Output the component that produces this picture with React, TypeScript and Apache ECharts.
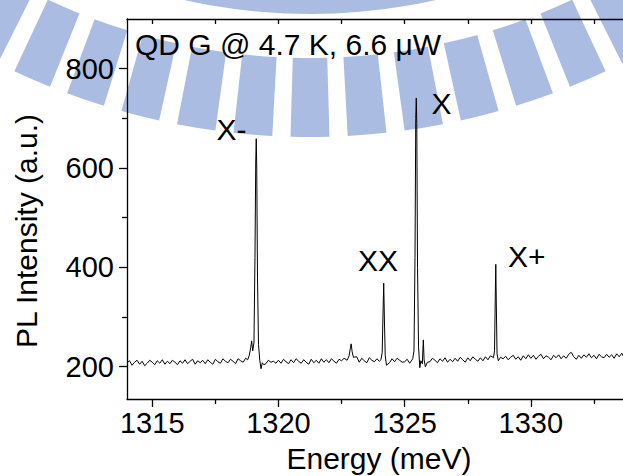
import React, { useEffect, useRef } from "react";
import * as echarts from "echarts";

// Baseline spectrum sampled every 0.1 meV from 1314.0 meV
const baseStart = 1314.0;
const baseStep = 0.1;
const baseIntensity = [
  208, 212, 203, 209, 213, 205, 211, 202, 207, 213,
  209, 204, 212, 207, 214, 205, 211, 206, 213, 209,
  204, 212, 207, 214, 206, 211, 215, 205, 212, 208,
  213, 206, 214, 209, 205, 215, 210, 207, 216, 211,
  208, 215, 211, 206, 216, 212, 209, 217, 213, 218,
  230, 260, 240, 205, 212, 206, 213, 209, 211, 207,
  213, 207, 215, 210, 206, 214, 208, 216, 211, 207,
  214, 209, 205, 215, 208, 213, 207, 216, 209, 214,
  208, 216, 211, 207, 215, 212, 217, 209, 230, 226,
  214, 220, 209, 217, 212, 208, 218, 213, 210, 216,
  211, 218, 250, 230, 208, 216, 210, 217, 213, 209,
  210, 215, 207, 213, 218, 300, 240, 230, 215, 209,
  210, 217, 213, 208, 216, 211, 218, 209, 215, 210,
  217, 211, 219, 214, 209, 218, 212, 220, 215, 211,
  218, 212, 220, 214, 222, 216, 250, 214, 219, 216,
  221, 214, 219, 223, 215, 220, 213, 222, 216, 224,
  217, 223, 215, 221, 225, 216, 222, 219, 214, 223,
  218, 224, 216, 222, 217, 225, 229, 220, 215, 223,
  217, 224, 219, 226, 218, 223, 216, 225, 220, 218,
  225, 219, 224, 217, 226, 220, 227, 218, 224, 221,
  224,
];

// Finely sampled peak regions
const xMinusEnergy = [1318.78, 1318.84, 1318.9, 1318.94, 1318.98, 1319.03, 1319.07, 1319.1, 1319.12, 1319.14, 1319.17, 1319.21, 1319.26, 1319.31, 1319.36, 1319.42];
const xMinusIntensity = [214, 222, 238, 252, 232, 248, 420, 610, 659, 600, 380, 245, 213, 196, 208, 204];
const bumpEnergy = [1322.72, 1322.8, 1322.85, 1322.88, 1322.92, 1322.97];
const bumpIntensity = [213, 222, 238, 246, 230, 219];
const xxEnergy = [1324.06, 1324.11, 1324.14, 1324.17, 1324.2, 1324.23, 1324.28];
const xxIntensity = [214, 228, 300, 368, 290, 222, 203];
const xEnergy = [1325.32, 1325.37, 1325.41, 1325.44, 1325.46, 1325.48, 1325.51, 1325.55, 1325.6, 1325.64, 1325.7, 1325.74, 1325.77, 1325.82];
const xIntensity = [216, 232, 420, 700, 741, 690, 400, 240, 198, 212, 206, 254, 214, 200];
const xPlusEnergy = [1328.52, 1328.56, 1328.59, 1328.61, 1328.63, 1328.66, 1328.71];
const xPlusIntensity = [218, 232, 340, 406, 330, 226, 212];

const xMajorTicks = [1315, 1320, 1325, 1330];
const xMinorTicks = [1317.5, 1322.5, 1327.5, 1332.5];
const xTopTicks = [1315, 1317.5, 1320, 1322.5, 1325, 1327.5, 1330, 1332.5];
const yMajorTicks = [200, 400, 600, 800];
const yMinorTicks = [300, 500, 700];

const peakLabels = ["X-", "XX", "X", "X+"];
const titleText = "QD G @ 4.7 K, 6.6 \u03bcW";
const xTitle = "Energy (meV)";
const yTitle = "PL Intensity (a.u.)";

const FONT = "'Liberation Sans', Arial, sans-serif";
const X_MIN = 1314;
const X_MAX = 1333.65;
const Y_MIN = 135;
const Y_MAX = 900;

function buildData(): number[][] {
  const segments = [
    [xMinusEnergy, xMinusIntensity],
    [bumpEnergy, bumpIntensity],
    [xxEnergy, xxIntensity],
    [xEnergy, xIntensity],
    [xPlusEnergy, xPlusIntensity],
  ];
  const pts: number[][] = [];
  baseIntensity.forEach((v, i) => {
    const e = Math.round((baseStart + i * baseStep) * 100) / 100;
    const inSeg = segments.some(
      ([es]) => e >= es[0] - 0.03 && e <= es[es.length - 1] + 0.03
    );
    if (!inSeg) pts.push([e, v]);
  });
  segments.forEach(([es, is]) => es.forEach((e, k) => pts.push([e, is[k]])));
  pts.sort((a, b) => a[0] - b[0]);
  return pts;
}

function watermark(): any[] {
  const color = "#abbce3";
  const cx = 310;
  const cy = -560;
  const els: any[] = [];
  els.push({
    type: "sector",
    z: -10,
    silent: true,
    shape: { cx, cy, r0: 538, r: 574, startAngle: (50 * Math.PI) / 180, endAngle: (130 * Math.PI) / 180 },
    style: { fill: color },
  });
  for (let k = -9; k <= 9; k++) {
    const c = 90 + k * 4.7;
    els.push({
      type: "sector",
      z: -10,
      silent: true,
      shape: {
        cx,
        cy,
        r0: 618,
        r: 697,
        startAngle: ((c - 1.6) * Math.PI) / 180,
        endAngle: ((c + 1.6) * Math.PI) / 180,
      },
      style: { fill: color },
    });
  }
  return els;
}

export default function App() {
  const ref = useRef<HTMLDivElement>(null);
  useEffect(() => {
    document.body.style.margin = "0";
    document.body.style.overflow = "hidden";
    const chart = echarts.init(ref.current!, null, { renderer: "svg" });
    const axisLine = { show: true, lineStyle: { color: "#000", width: 1.3 } };
    const tickStyle = { color: "#000", width: 1.3 };
    const textStyle = { fill: "#000", fontFamily: FONT, fontSize: 30 };
    const plain = (v: number) => String(v);
    const option: any = {
      animation: false,
      backgroundColor: "#fff",
      grid: { left: 127, top: 19, right: 0, bottom: 77, containLabel: false },
      xAxis: [
        {
          type: "value", min: X_MIN, max: X_MAX, position: "bottom",
          axisLine,
          axisTick: { show: true, inside: false, length: 8, customValues: xMajorTicks, lineStyle: tickStyle },
          axisLabel: { show: true, customValues: xMajorTicks, formatter: plain, color: "#000", fontSize: 29, fontFamily: FONT, margin: 9 },
          splitLine: { show: false },
        },
        {
          type: "value", min: X_MIN, max: X_MAX, position: "bottom",
          axisLine: { show: false },
          axisTick: { show: true, inside: false, length: 5, customValues: xMinorTicks, lineStyle: tickStyle },
          axisLabel: { show: false },
          splitLine: { show: false },
        },
        {
          type: "value", min: X_MIN, max: X_MAX, position: "top",
          axisLine,
          axisTick: { show: true, inside: true, length: 5, customValues: xTopTicks, lineStyle: tickStyle },
          axisLabel: { show: false },
          splitLine: { show: false },
        },
      ],
      yAxis: [
        {
          type: "value", min: Y_MIN, max: Y_MAX, position: "left",
          axisLine,
          axisTick: { show: true, inside: false, length: 8, customValues: yMajorTicks, lineStyle: tickStyle },
          axisLabel: { show: true, customValues: yMajorTicks, formatter: plain, color: "#000", fontSize: 29, fontFamily: FONT, margin: 13 },
          splitLine: { show: false },
        },
        {
          type: "value", min: Y_MIN, max: Y_MAX, position: "left",
          axisLine: { show: false },
          axisTick: { show: true, inside: false, length: 5, customValues: yMinorTicks, lineStyle: tickStyle },
          axisLabel: { show: false },
          splitLine: { show: false },
        },
      ],
      series: [
        {
          type: "line",
          xAxisIndex: 0,
          yAxisIndex: 0,
          data: buildData(),
          symbol: "none",
          showSymbol: false,
          lineStyle: { color: "#000", width: 1 },
          clip: true,
          z: 5,
        },
      ],
      graphic: [
        ...watermark(),
        { type: "text", z: 100, x: 135, y: 44, style: { ...textStyle, text: titleText, textAlign: "left", textVerticalAlign: "middle" } },
        { type: "text", z: 100, x: 216.5, y: 129, style: { ...textStyle, text: peakLabels[0], textAlign: "left", textVerticalAlign: "middle" } },
        { type: "text", z: 100, x: 358, y: 260, style: { ...textStyle, text: peakLabels[1], textAlign: "left", textVerticalAlign: "middle" } },
        { type: "text", z: 100, x: 431.5, y: 103, style: { ...textStyle, text: peakLabels[2], textAlign: "left", textVerticalAlign: "middle" } },
        { type: "text", z: 100, x: 508, y: 256, style: { ...textStyle, text: peakLabels[3], textAlign: "left", textVerticalAlign: "middle" } },
        { type: "text", z: 100, x: 379, y: 458, style: { ...textStyle, text: xTitle, textAlign: "center", textVerticalAlign: "middle" } },
        { type: "text", z: 100, x: 26, y: 231, rotation: Math.PI / 2, style: { ...textStyle, text: yTitle, textAlign: "center", textVerticalAlign: "middle" } },
      ],
    };
    chart.setOption(option);
    return () => chart.dispose();
  }, []);
  return <div ref={ref} style={{ width: 623, height: 476 }} />;
}
